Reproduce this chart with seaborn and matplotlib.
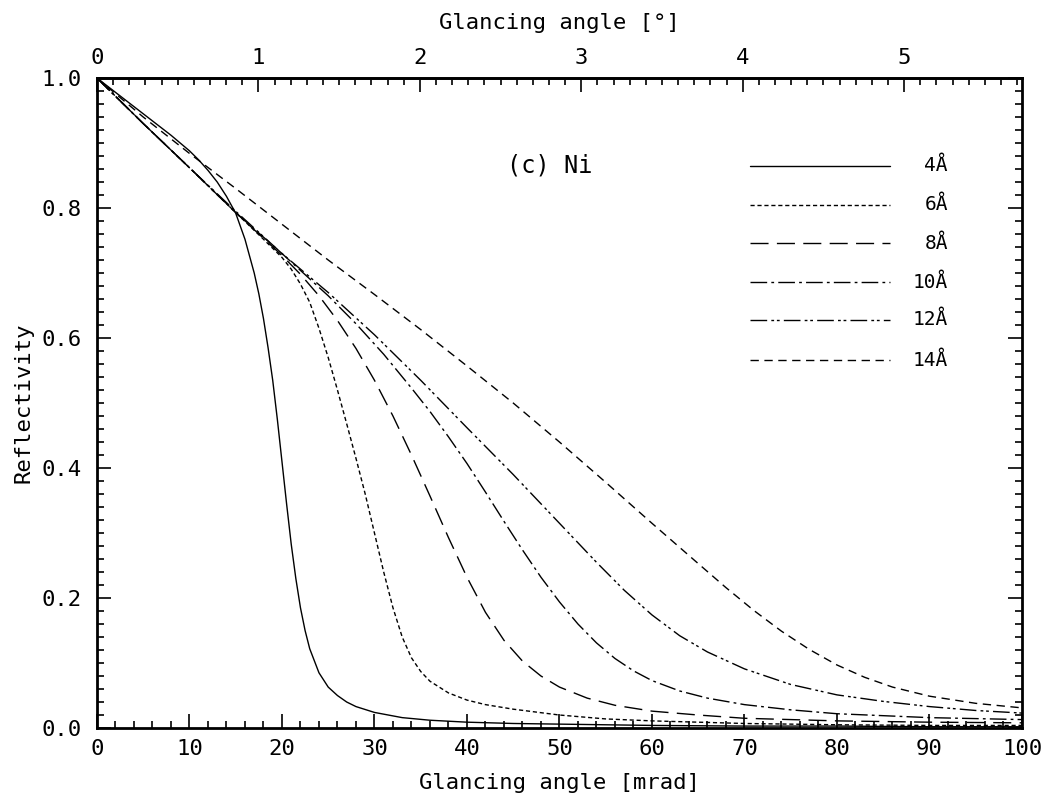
import numpy as np
import pandas as pd
import matplotlib
matplotlib.use("Agg")
import matplotlib.pyplot as plt
import seaborn as sns
from matplotlib.ticker import MultipleLocator

# Glancing angle (mrad) and reflectivity for each wavelength
m_4 = [0, 2, 4, 6, 8, 10, 11, 12, 13, 14, 15, 16, 17, 17.5, 18, 18.5, 19, 19.5, 20, 20.5, 21, 21.5, 22, 22.5, 23, 24, 25, 26, 27, 28, 30, 33, 36, 40, 45, 50, 60, 70, 80, 90, 100]
r_4 = [1.0, 0.978, 0.956, 0.934, 0.912, 0.888, 0.874, 0.858, 0.84, 0.818, 0.792, 0.752, 0.70, 0.668, 0.63, 0.585, 0.535, 0.475, 0.41, 0.345, 0.283, 0.23, 0.185, 0.15, 0.122, 0.085, 0.063, 0.05, 0.04, 0.033, 0.024, 0.016, 0.012, 0.009, 0.007, 0.006, 0.004, 0.003, 0.003, 0.002, 0.002]

m_6 = [0, 5, 10, 15, 18, 20, 21, 22, 23, 24, 25, 26, 27, 28, 29, 30, 31, 32, 33, 34, 35, 36, 38, 40, 42, 45, 50, 55, 60, 70, 80, 90, 100]
r_6 = [1.0, 0.93, 0.862, 0.793, 0.752, 0.724, 0.706, 0.683, 0.655, 0.615, 0.57, 0.52, 0.468, 0.415, 0.36, 0.3, 0.24, 0.185, 0.14, 0.108, 0.087, 0.072, 0.054, 0.043, 0.036, 0.029, 0.02, 0.014, 0.011, 0.007, 0.005, 0.004, 0.004]

m_8 = [0, 5, 10, 15, 20, 22, 24, 26, 28, 30, 32, 34, 36, 38, 40, 42, 44, 46, 48, 50, 53, 56, 60, 65, 70, 80, 90, 100]
r_8 = [1.0, 0.93, 0.862, 0.793, 0.727, 0.698, 0.665, 0.627, 0.584, 0.535, 0.48, 0.42, 0.357, 0.293, 0.232, 0.178, 0.135, 0.103, 0.08, 0.063, 0.046, 0.035, 0.026, 0.02, 0.015, 0.011, 0.009, 0.008]

m_10 = [0, 5, 10, 15, 20, 25, 28, 31, 34, 36, 38, 40, 42, 44, 46, 48, 50, 52, 54, 56, 58, 60, 63, 66, 70, 75, 80, 90, 100]
r_10 = [1.0, 0.93, 0.862, 0.793, 0.73, 0.665, 0.622, 0.575, 0.523, 0.487, 0.448, 0.407, 0.363, 0.318, 0.274, 0.232, 0.194, 0.16, 0.131, 0.107, 0.088, 0.073, 0.057, 0.046, 0.036, 0.028, 0.022, 0.016, 0.013]

m_12 = [0, 5, 10, 15, 20, 25, 30, 35, 40, 45, 48, 51, 54, 57, 60, 63, 66, 70, 75, 80, 85, 90, 95, 100]
r_12 = [1.0, 0.93, 0.862, 0.795, 0.73, 0.67, 0.605, 0.535, 0.462, 0.39, 0.345, 0.3, 0.255, 0.212, 0.174, 0.142, 0.117, 0.091, 0.067, 0.051, 0.041, 0.033, 0.027, 0.023]

m_14 = [0, 5, 10, 15, 20, 25, 30, 35, 40, 45, 50, 55, 60, 65, 68, 71, 74, 77, 80, 83, 86, 90, 95, 100]
r_14 = [1.0, 0.94, 0.884, 0.83, 0.775, 0.72, 0.667, 0.613, 0.557, 0.5, 0.44, 0.378, 0.315, 0.253, 0.216, 0.181, 0.149, 0.121, 0.097, 0.078, 0.063, 0.049, 0.038, 0.031]

labels = ["4Å", "6Å", "8Å", "10Å", "12Å", "14Å"]
angles = [m_4, m_6, m_8, m_10, m_12, m_14]
refl = [r_4, r_6, r_8, r_10, r_12, r_14]

x_ticks = [0, 10, 20, 30, 40, 50, 60, 70, 80, 90, 100]
y_ticks = [0.0, 0.2, 0.4, 0.6, 0.8, 1.0]
deg_ticks = [0, 1, 2, 3, 4, 5]

frames = []
for lab, m, r in zip(labels, angles, refl):
    frames.append(pd.DataFrame({"mrad": m, "R": r, "wl": lab}))
df = pd.concat(frames, ignore_index=True)

sns.set_style("ticks")
plt.rcParams["font.family"] = ["DejaVu Sans Mono", "DejaVu Sans"]
plt.rcParams["font.size"] = 15
plt.rcParams["text.color"] = "black"
plt.rcParams["axes.labelcolor"] = "black"
plt.rcParams["xtick.color"] = "black"
plt.rcParams["ytick.color"] = "black"

dash_styles = {
    "4Å": "",
    "6Å": (3, 2),
    "8Å": (13, 6),
    "10Å": (12, 3, 2, 3),
    "12Å": (12, 3, 2, 2, 2, 3),
    "14Å": (6, 4),
}

fig = plt.figure(figsize=(10.62, 8.01), dpi=100)
ax = fig.add_axes([0.0913, 0.0911, 0.8710, 0.8115])

sns.lineplot(data=df, x="mrad", y="R", hue="wl", style="wl",
             palette=["black"] * 6, dashes=dash_styles, hue_order=labels,
             style_order=labels, linewidth=1.0, legend=False, ax=ax,
             estimator=None, sort=False)

ax.set_xlim(0, 100)
ax.set_ylim(0, 1.0)
ax.set_xticks(x_ticks)
ax.set_xticklabels([str(t) for t in x_ticks])
ax.set_yticks(y_ticks)
ax.set_yticklabels([f"{t:.1f}" for t in y_ticks])
ax.xaxis.set_minor_locator(MultipleLocator(2))
ax.yaxis.set_minor_locator(MultipleLocator(0.02))
ax.tick_params(which="both", direction="in", color="black", width=1.2,
               labelsize=16, top=False, right=True, labelcolor="black")
ax.tick_params(axis="x", which="major", length=10, pad=8)
ax.tick_params(axis="y", which="major", length=10, pad=11)
ax.tick_params(which="minor", length=5)
for s in ax.spines.values():
    s.set_linewidth(2.0)
    s.set_color("black")

ax.set_xlabel("Glancing angle [mrad]", fontsize=16, labelpad=10, color="black")
ax.set_ylabel("Reflectivity", fontsize=16, labelpad=6, color="black")

# Top axis in degrees
mrad_per_deg = np.pi / 180 * 1000
sec = ax.secondary_xaxis("top", functions=(lambda x: x / mrad_per_deg,
                                            lambda d: d * mrad_per_deg))
sec.set_xticks(deg_ticks)
sec.set_xticklabels([str(d) for d in deg_ticks])
sec.xaxis.set_minor_locator(MultipleLocator(0.1))
sec.tick_params(which="both", direction="in", width=1.2, labelsize=16,
                color="black", labelcolor="black")
sec.tick_params(which="major", length=10, pad=7)
sec.tick_params(which="minor", length=5, pad=7)
sec.spines["top"].set_linewidth(2.0)
sec.set_xlabel("Glancing angle [°]", fontsize=16, labelpad=14, color="black")

# Panel tag
ax.text(44.3, 0.865, "(c) Ni", fontsize=17, ha="left", va="center", color="black")

# Legend drawn as line samples with labels
leg_y = [0.865, 0.805, 0.746, 0.686, 0.628, 0.566]
for lab, yy in zip(labels, leg_y):
    ls = dash_styles[lab]
    line, = ax.plot([70.6, 85.7], [yy, yy], color="black", lw=1.0)
    if ls:
        line.set_dashes(ls)
    ax.text(92.0, yy, lab, fontsize=14, ha="right", va="center", color="black")

fig.savefig("out.png", dpi=100, facecolor="white")
